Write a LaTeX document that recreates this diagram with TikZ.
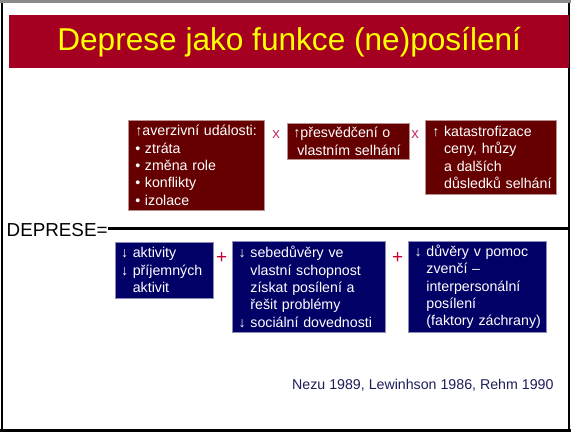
\documentclass[tikz,border=0pt]{standalone}
\usepackage{fontspec}
\setmainfont{Liberation Sans}
\definecolor{titlebar}{HTML}{A50021}
\definecolor{titletext}{HTML}{FFFF00}
\definecolor{causebox}{HTML}{660000}
\definecolor{causeedge}{HTML}{B89090}
\definecolor{lackbox}{HTML}{000066}
\definecolor{lackedge}{HTML}{8C8CB4}
\definecolor{timesmark}{HTML}{CC3366}
\definecolor{plusmark}{HTML}{CC0033}
\definecolor{citetext}{HTML}{1E1E5A}
\definecolor{framegray}{HTML}{8A8A8A}
\newcommand{\boxfont}{\fontsize{14.2}{17.3}\selectfont}
% one unbreakable line of box text
\newcommand{\bl}[1]{\mbox{#1}}
% hanging indent after an arrow
\newcommand{\ind}{\hphantom{↓ }}
\tikzset{
  factor/.style={anchor=north west, text=white, align=left, inner ysep=0pt,
    font=\boxfont, line width=0.6pt},
  cause/.style={factor, fill=causebox, draw=causeedge},
  lack/.style={factor, fill=lackbox, draw=lackedge},
  times/.style={text=timesmark, font=\fontsize{15}{15}\selectfont, inner sep=0pt},
  plus/.style={text=plusmark, font=\fontsize{19}{19}\selectfont, inner sep=0pt},
}
\begin{document}
\begin{tikzpicture}[x=1pt,y=-1pt]
\useasboundingbox (0,0) rectangle (571,432);
\fill[white] (0,0) rectangle (571,432);
% slide frame
\draw[framegray, line width=3pt] (0,1.5) -- (571,1.5);
\draw[black, line width=2pt] (2,3) -- (2,432);
\draw[black, line width=2pt] (569,3) -- (569,432);
\draw[black, line width=3pt] (0,430.5) -- (571,430.5);
% title bar
\node[fill=titlebar, minimum width=560pt, minimum height=53pt, inner sep=0pt,
  anchor=north west, text=titletext, font=\fontsize{31.6}{36}\selectfont]
  (title) at (9,15) {Deprese jako funkce (ne)posílení};
% numerator: factors that raise depression
\node[cause, minimum width=136pt, minimum height=90pt, inner xsep=7pt, text width=122pt]
  (events) at (128,120)
  {\bl{↑averzivní události:}\\\bl{• ztráta}\\\bl{• změna role}\\\bl{• konflikty}\\\bl{• izolace}};
\node[cause, minimum width=122pt, minimum height=36pt, inner xsep=6pt, text width=110pt]
  (belief) at (287,123)
  {\bl{↑přesvědčení o}\\\bl{\hspace*{0.28em}vlastním selhání}};
\node[cause, minimum width=131pt, minimum height=74pt, inner xsep=7pt, text width=117pt]
  (catastr) at (425,120)
  {\bl{↑ katastrofizace}\\\bl{\ind ceny, hrůzy}\\\bl{\ind a dalších}\\\bl{\ind důsledků selhání}};
\node[times] (t1) at (276,135) {x};
\node[times] (t2) at (415,135) {x};
% fraction line
\node[anchor=base west, inner sep=0pt, font=\fontsize{18.8}{20}\selectfont]
  (dep) at (6.5,236) {DEPRESE=};
\coordinate (lineend) at (569,228.5);
\draw[line width=2.6pt] (dep.east |- lineend) -- (lineend);
% denominator: factors that protect
\node[lack, minimum width=98pt, minimum height=56pt, inner xsep=5.7pt, text width=86.6pt]
  (activ) at (115,241.7)
  {\bl{↓ aktivity}\\\bl{↓ příjemných}\\\bl{\ind aktivit}};
\node[lack, minimum width=152.7pt, minimum height=91.3pt, inner xsep=6pt, text width=140.7pt]
  (self) at (232.3,241)
  {\bl{↓ sebedůvěry ve}\\\bl{\ind vlastní schopnost}\\\bl{\ind získat posílení a}\\\bl{\ind řešit problémy}\\\bl{↓ sociální dovednosti}};
\node[lack, minimum width=137.4pt, minimum height=91.3pt, inner xsep=6pt, text width=125.4pt]
  (help) at (408.3,241)
  {\bl{↓ důvěry v pomoc}\\\bl{\ind zvenčí –}\\\bl{\ind interpersonální}\\\bl{\ind posílení}\\\bl{\ind (faktory záchrany)}};
\node[plus] (p1) at (221.7,258) {+};
\node[plus] (p2) at (397.7,258) {+};
% sources
\node[anchor=west, inner sep=0pt, text=citetext, font=\fontsize{14.2}{16}\selectfont]
  (cite) at (292,385) {Nezu 1989, Lewinhson 1986, Rehm 1990};
\end{tikzpicture}
\end{document}
